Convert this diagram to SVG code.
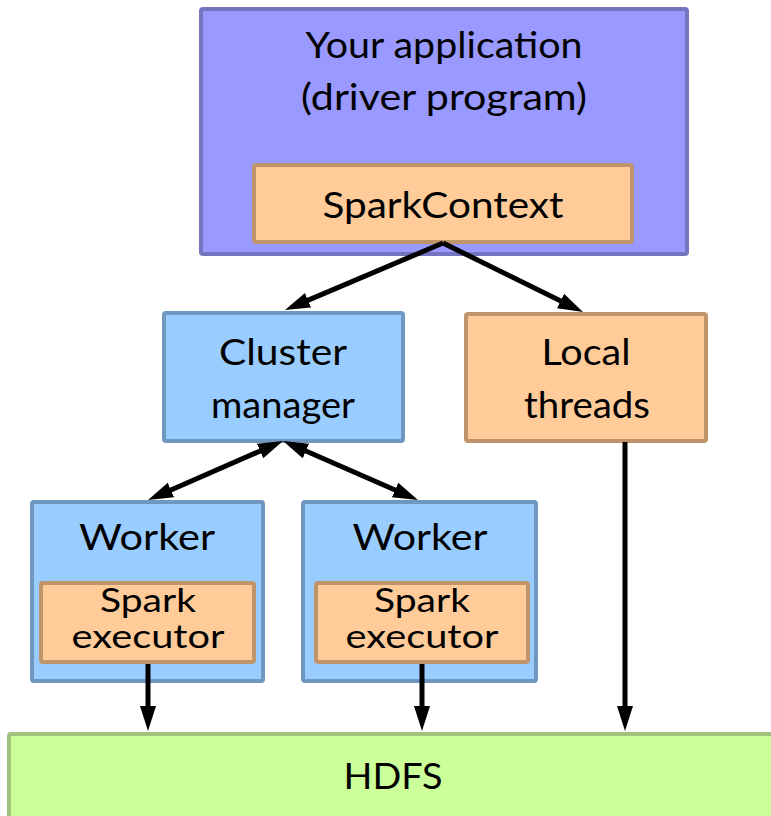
<svg xmlns="http://www.w3.org/2000/svg" width="771" height="816" viewBox="0 0 771 816">
<style>
text{font-family:Lato,"Open Sans","Liberation Sans",sans-serif;font-size:36px;fill:#000;text-anchor:middle}
text.exec{font-size:32px}
.driver{fill:#9999ff;stroke:#7474bf;stroke-width:4}
.orange{fill:#ffcc99;stroke:#bf946a;stroke-width:4}
.blue{fill:#99ccff;stroke:#6f97bf;stroke-width:4}
.green{fill:#ccff99;stroke:#9fc27f;stroke-width:4}
.conn line{stroke:#000;stroke-width:5;fill:none}
</style>
<defs>
<marker id="ah" markerUnits="userSpaceOnUse" markerWidth="26" markerHeight="18" viewBox="0 0 26 18" refX="15" refY="9" orient="auto-start-reverse">
<path d="M0,1 L25,9 L0,17 Z" fill="#000"/>
</marker>
</defs>
<g id="driver">
<rect class="driver" x="201" y="9" width="486" height="245" rx="2"/>
<text x="444" y="58" textLength="277" lengthAdjust="spacingAndGlyphs">Your application</text>
<text x="444" y="110" textLength="286" lengthAdjust="spacingAndGlyphs">(driver program)</text>
</g>
<g id="sparkcontext">
<rect class="orange" x="254" y="165" width="378" height="77" rx="2"/>
<text x="443" y="218" textLength="241" lengthAdjust="spacingAndGlyphs">SparkContext</text>
</g>
<g id="cluster-manager">
<rect class="blue" x="164" y="313" width="239" height="128" rx="2"/>
<text x="283" y="365" textLength="128" lengthAdjust="spacingAndGlyphs">Cluster</text>
<text x="283" y="418" textLength="144" lengthAdjust="spacingAndGlyphs">manager</text>
</g>
<g id="local-threads">
<rect class="orange" x="466" y="314" width="240" height="127" rx="2"/>
<text x="586" y="365" textLength="89" lengthAdjust="spacingAndGlyphs">Local</text>
<text x="587" y="418" textLength="126" lengthAdjust="spacingAndGlyphs">threads</text>
</g>
<g id="worker1">
<rect class="blue" x="32" y="502" width="231" height="179" rx="2"/>
<text x="147" y="550" textLength="136" lengthAdjust="spacingAndGlyphs">Worker</text>
<g id="executor1">
<rect class="orange" x="41" y="583" width="213" height="79" rx="2"/>
<text class="exec" x="148" y="612" textLength="96" lengthAdjust="spacingAndGlyphs">Spark</text>
<text class="exec" x="148" y="648" textLength="153" lengthAdjust="spacingAndGlyphs">executor</text>
</g>
</g>
<g id="worker2">
<rect class="blue" x="303" y="502" width="233" height="179" rx="2"/>
<text x="420" y="550" textLength="135" lengthAdjust="spacingAndGlyphs">Worker</text>
<g id="executor2">
<rect class="orange" x="316" y="583" width="212" height="79" rx="2"/>
<text class="exec" x="422" y="612" textLength="96" lengthAdjust="spacingAndGlyphs">Spark</text>
<text class="exec" x="422" y="648" textLength="153" lengthAdjust="spacingAndGlyphs">executor</text>
</g>
</g>
<g id="hdfs">
<rect class="green" x="9" y="734" width="772" height="100" rx="2"/>
<text x="393" y="789" textLength="99" lengthAdjust="spacingAndGlyphs">HDFS</text>
</g>
<g id="connectors" class="conn">
<line x1="443" y1="243" x2="294.2" y2="306.1" marker-end="url(#ah)"/>
<line x1="443" y1="243" x2="574" y2="307.6" marker-end="url(#ah)"/>
<line x1="273.8" y1="445" x2="157.2" y2="496" marker-start="url(#ah)" marker-end="url(#ah)"/>
<line x1="292.2" y1="445" x2="408.8" y2="496" marker-start="url(#ah)" marker-end="url(#ah)"/>
<line x1="148" y1="664" x2="148" y2="721" marker-end="url(#ah)"/>
<line x1="422" y1="664" x2="422" y2="721" marker-end="url(#ah)"/>
<line x1="625" y1="442" x2="625" y2="721" marker-end="url(#ah)"/>
</g>
</svg>
